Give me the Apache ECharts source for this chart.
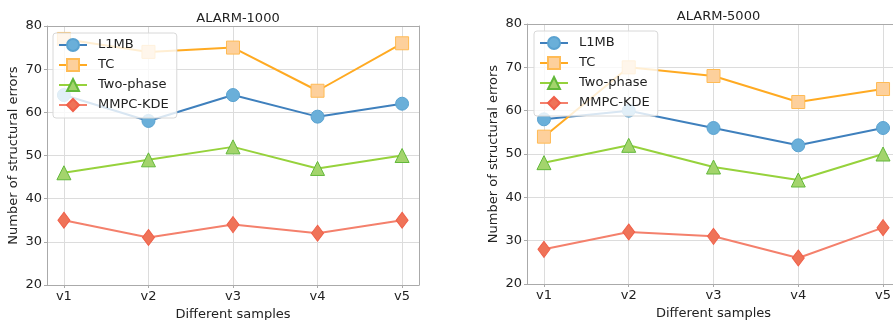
<!DOCTYPE html>
<html>
<head>
<meta charset="utf-8">
<script src="https://cdn.jsdelivr.net/npm/echarts@6/dist/echarts.min.js"></script>
<style>
  html, body { margin: 0; padding: 0; background: #fff; }
  #chart { width: 893px; height: 320px; }
</style>
</head>
<body>
<div id="chart"></div>
<script>
  // 数据
  var samples = ['v1', 'v2', 'v3', 'v4', 'v5']
  var sampleX = [1, 2, 3, 4, 5]
  var yTicks = [20, 30, 40, 50, 60, 70, 80]
  var titles = ['ALARM-1000', 'ALARM-5000']
  var methods = ['L1MB', 'TC', 'Two-phase', 'MMPC-KDE']

  var l1mb1000 = [64, 58, 64, 59, 62]
  var tc1000 = [77, 74, 75, 65, 76]
  var twoPhase1000 = [46, 49, 52, 47, 50]
  var mmpc1000 = [35, 31, 34, 32, 35]

  var l1mb5000 = [58, 60, 56, 52, 56]
  var tc5000 = [54, 70, 68, 62, 65]
  var twoPhase5000 = [48, 52, 47, 44, 50]
  var mmpc5000 = [28, 32, 31, 26, 33]

  var font = 'DejaVu Sans'
  var styles = [
    { line: '#3f80bd', fill: '#6aafd9', edge: '#5aa2d0', symbol: 'circle', size: 13 },
    { line: '#ffaa22', fill: '#fdd09c', edge: '#ffbb55', symbol: 'rect', size: 13 },
    { line: '#96d23c', fill: '#a3d46c', edge: '#62b83a', symbol: 'triangle', size: 14 },
    { line: '#f4806c', fill: '#ef7358', edge: '#f0604a', symbol: 'diamond', size: [12, 16] }
  ]

  function pts(arr) {
    return arr.map(function (v, i) { return [sampleX[i], v] })
  }

  var grids = [
    { left: 47, top: 26, width: 372, height: 259, outerBoundsMode: 'none', containLabel: false },
    { left: 527, top: 24, width: 373, height: 260, outerBoundsMode: 'none', containLabel: false }
  ]

  var xAxes = [], yAxes = [], series = [], legends = [], titleList = []
  var sets = [
    [l1mb1000, tc1000, twoPhase1000, mmpc1000],
    [l1mb5000, tc5000, twoPhase5000, mmpc5000]
  ]
  var legendPos = [{ left: 53, top: 33 }, { left: 534, top: 31 }]

  grids.forEach(function (g, gi) {
    titleList.push({
      text: titles[gi],
      left: g.left + g.width / 2,
      top: g.top - 19,
      textAlign: 'center',
      textStyle: { fontFamily: font, fontSize: 13, fontWeight: 'normal', color: '#222' }
    })
    xAxes.push({
      type: 'value',
      gridIndex: gi,
      min: 0.8,
      max: 5.2,
      name: 'Different samples',
      nameLocation: 'middle',
      nameGap: 21,
      nameTextStyle: { fontFamily: font, fontSize: 13, color: '#222' },
      axisLine: { show: true, onZero: false, lineStyle: { color: '#aaa', width: 1 } },
      axisTick: { show: true, customValues: sampleX, length: 3, lineStyle: { color: '#aaa' } },
      axisLabel: {
        customValues: sampleX,
        fontFamily: font, fontSize: 13, color: '#222', margin: 5,
        formatter: function (v) { return samples[Math.round(v) - 1] }
      },
      splitLine: { show: true, lineStyle: { color: '#dcdcdc', width: 1 } }
    })
    xAxes.push({
      type: 'value', gridIndex: gi, position: 'top', min: 0.8, max: 5.2,
      axisLine: { show: true, lineStyle: { color: '#aaa' } },
      axisTick: { show: false }, axisLabel: { show: false }, splitLine: { show: false }
    })
    yAxes.push({
      type: 'value',
      gridIndex: gi,
      min: yTicks[0],
      max: yTicks[yTicks.length - 1],
      interval: 10,
      name: 'Number of structural errors',
      nameLocation: 'middle',
      nameGap: 27,
      nameTextStyle: { fontFamily: font, fontSize: 13, color: '#222' },
      axisLine: { show: true, lineStyle: { color: '#aaa', width: 1 } },
      axisTick: { show: true, length: 3, lineStyle: { color: '#aaa' } },
      axisLabel: { fontFamily: font, fontSize: 13, color: '#222', margin: 5 },
      splitLine: { show: true, lineStyle: { color: '#dcdcdc', width: 1 } }
    })
    yAxes.push({
      type: 'value', gridIndex: gi, position: 'right', min: 20, max: 80,
      axisLine: { show: true, lineStyle: { color: '#aaa' } },
      axisTick: { show: false }, axisLabel: { show: false }, splitLine: { show: false }
    })

    methods.forEach(function (m, mi) {
      var s = styles[mi]
      series.push({
        name: m,
        type: 'line',
        xAxisIndex: gi * 2,
        yAxisIndex: gi * 2,
        data: pts(sets[gi][mi]),
        symbol: s.symbol,
        symbolSize: s.size,
        showAllSymbol: true,
        lineStyle: { color: s.line, width: 2 },
        itemStyle: { color: s.fill, borderColor: s.edge, borderWidth: 1 },
        emphasis: { disabled: true },
        z: 3 + mi
      })
    })

    legends.push({
      data: methods.map(function (m) { return { name: m } }),
      orient: 'vertical',
      left: legendPos[gi].left,
      top: legendPos[gi].top,
      itemWidth: 28,
      itemHeight: 15,
      itemGap: 6,
      padding: [5, 8, 6, 5],
      backgroundColor: 'rgba(255,255,255,0.8)',
      borderColor: '#d8d8d8',
      borderWidth: 1,
      borderRadius: 3,
      selectedMode: false,
      textStyle: { fontFamily: font, fontSize: 13, color: '#222', padding: [0, 0, 0, 6] },
      z: 10
    })
  })

  var myCharts = echarts.init(document.getElementById('chart'))
  myCharts.setOption({
    animation: false,
    title: titleList,
    grid: grids,
    xAxis: xAxes,
    yAxis: yAxes,
    legend: legends,
    series: series
  })
</script>
</body>
</html>
